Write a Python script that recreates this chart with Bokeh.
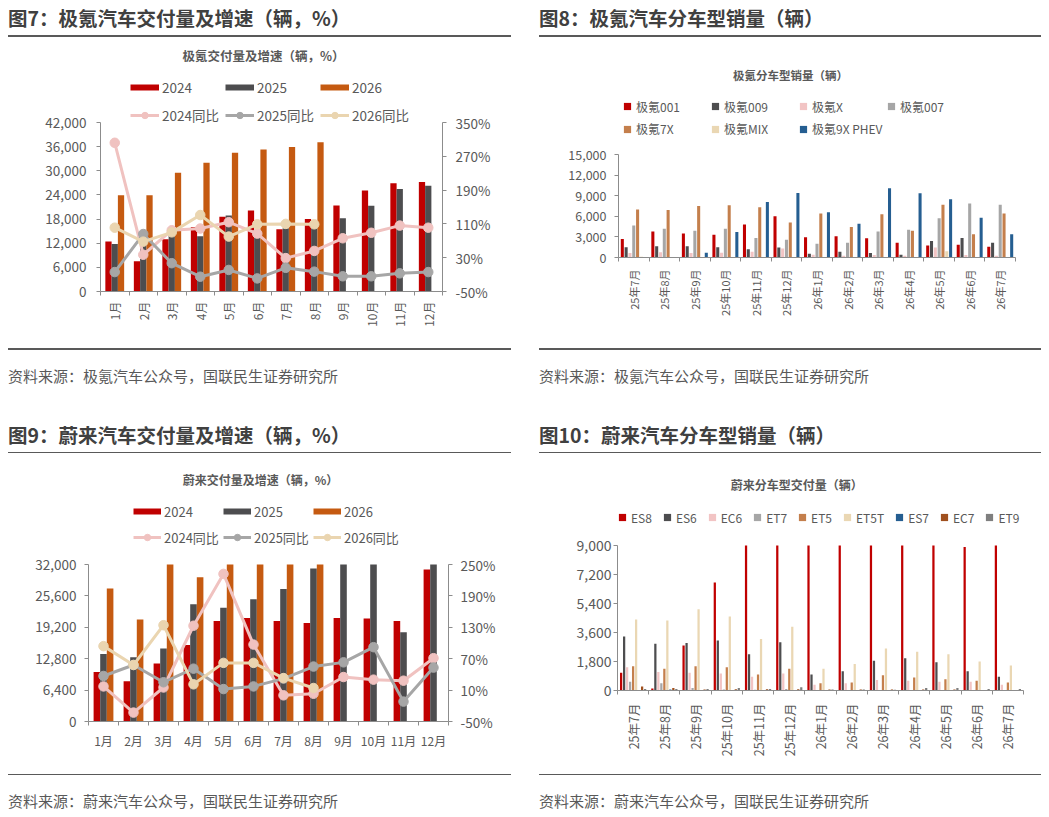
import math
from bokeh.plotting import figure
from bokeh.models import (Range1d, LinearAxis, FixedTicker, NumeralTickFormatter,
                          PrintfTickFormatter, Legend, LegendItem, Label, Div, Spacer)
from bokeh.layouts import column, row
from bokeh.embed import file_html
from bokeh.resources import INLINE

# ---------------- data ----------------
months = ["1月", "2月", "3月", "4月", "5月", "6月", "7月", "8月", "9月", "10月", "11月", "12月"]

# 极氪 deliveries (辆)
zk_2024 = [12400, 7500, 13000, 16000, 18600, 20100, 15500, 18000, 21400, 25100, 26900, 27200]
zk_2025 = [11800, 13900, 14400, 13750, 18900, 15000, 15700, 16300, 18200, 21300, 25500, 26300]
zk_2026 = [23900, 23900, 29500, 32000, 34500, 35300, 35900, 37100]
# 极氪 YoY (%)
zk_yoy_2024 = [302, 37, 95, 99, 114, 87, 29, 46, 76, 89, 106, 101]
zk_yoy_2025 = [-4, 86, 17, -15, 1, -19, 6, -3, -14, -14, -7, -4]
zk_yoy_2026 = [101, 68, 90, 131, 80, 109, 110, 109]

# 蔚来 deliveries (辆)
nio_2024 = [10100, 8200, 11800, 15600, 20500, 21100, 20500, 20100, 21100, 21000, 20500, 31000]
nio_2025 = [13750, 13100, 14900, 23900, 23200, 24900, 27000, 31200, 34400, 40300, 18200, 47400]
nio_2026 = [27100, 20800, 34700, 29400, 37600, 40300, 35900, 35700]
# 蔚来 YoY (%)
nio_yoy_2024 = [17, -33, 15, 133, 232, 97, 0, 3, 35, 30, 28, 71]
nio_yoy_2025 = [37, 58, 25, 51, 12, 17, 32, 55, 63, 92, -12, 53]
nio_yoy_2026 = [94, 58, 134, 21, 62, 62, 33, 14]

# model months
model_months = ["25年7月", "25年8月", "25年9月", "25年10月", "25年11月", "25年12月",
                "26年1月", "26年2月", "26年3月", "26年4月", "26年5月", "26年6月", "26年7月"]

# 极氪 by model
zk_names = ["极氪001", "极氪009", "极氪X", "极氪007", "极氪7X", "极氪MIX", "极氪9X PHEV"]
zk_001 = [2700, 3800, 3500, 3300, 4800, 6000, 2950, 3100, 2800, 2150, 1750, 1850, 1550]
zk_009 = [1500, 1650, 1650, 1500, 1200, 1450, 550, 850, 650, 400, 2400, 2850, 2150]
zk_x = [650, 750, 650, 700, 850, 1300, 400, 250, 350, 250, 1450, 350, 250]
zk_007 = [4650, 4200, 3900, 4200, 2850, 2600, 2000, 2150, 3800, 4050, 5700, 7850, 7700]
zk_7x = [7000, 6900, 7500, 7600, 7300, 5100, 6400, 4450, 6300, 3900, 7700, 3400, 6400]
zk_mix = [100, 0, 0, 0, 0, 0, 0, 0, 0, 0, 900, 0, 0]
zk_9x = [0, 0, 700, 3700, 8100, 9400, 6600, 4900, 10100, 9350, 8500, 5800, 3400]

# 蔚来 by model
nio_names = ["ES8", "ES6", "EC6", "ET7", "ET5", "ET5T", "ES7", "EC7", "ET9"]
nio_es8 = [1100, 120, 2800, 6700, 11000, 11500, 11000, 10500, 11000, 10800, 10500, 8900, 10800]
nio_es6 = [3350, 2900, 2950, 3100, 2250, 3000, 1000, 1200, 1850, 2000, 1750, 1200, 850]
nio_ec6 = [1450, 1150, 1100, 1050, 850, 1050, 350, 450, 650, 600, 550, 550, 350]
nio_et7 = [550, 450, 150, 60, 50, 100, 0, 0, 0, 0, 0, 0, 0]
nio_et5 = [1500, 1350, 1500, 1450, 1000, 1350, 450, 500, 950, 800, 700, 600, 500]
nio_et5t = [4400, 4350, 5050, 4600, 3200, 3950, 1350, 1650, 2600, 2400, 2250, 1800, 1550]
nio_es7 = [0, 60, 0, 0, 0, 0, 0, 0, 0, 0, 0, 0, 0]
nio_ec7 = [250, 150, 60, 80, 70, 70, 60, 60, 60, 60, 60, 0, 0]
nio_et9 = [100, 100, 100, 150, 100, 200, 60, 60, 50, 150, 150, 100, 100]

# ---------------- style ----------------
FONT = "Noto Sans CJK SC"
TXT = "#595959"
AXC = "#8C8C8C"
C24, C25, C26 = "#C00000", "#4D4D4F", "#C55A11"
L24, L25, L26 = "#F0C2C0", "#A6A6A6", "#EAD5B0"
ZK_COLORS = ["#C00000", "#4D4D4F", "#F2C4C4", "#A6A6A6", "#C47F4C", "#EAD7B3", "#255E91"]
NIO_COLORS = ["#C00000", "#4D4D4F", "#F2C4C4", "#A6A6A6", "#C47F4C", "#EAD7B3", "#255E91",
              "#A0501E", "#7F7F7F"]


def base_fig(w, h, borders, xr, ymin, ymax):
    """The frame reaches the top of the figure so that titles/legends are drawn inside it;
    the value axis itself only covers the lower part (its bounds)."""
    bl, br, bt, bb = borders
    frame_h = h - bb
    axis_h = h - bb - bt
    yend = ymin + (ymax - ymin) * frame_h / axis_h
    p = figure(width=w, height=h, x_range=Range1d(*xr), y_range=Range1d(ymin, yend),
               x_axis_type=None, y_axis_type=None, output_backend="svg",
               toolbar_location=None, min_border_left=bl, min_border_right=br,
               min_border_top=0, min_border_bottom=bb)
    p.frame_align = False
    p.outline_line_color = None
    p.background_fill_color = "white"
    p.border_fill_color = "white"
    # range used only by legend swatch renderers (kept outside the visible frame)
    p.extra_y_ranges = {"swatch": Range1d(-3 * ymax, -2 * ymax)}
    return p, frame_h / axis_h


def style_axis(ax, fs):
    ax.axis_line_color = AXC
    ax.major_tick_line_color = AXC
    ax.minor_tick_line_color = AXC
    ax.major_label_text_color = TXT
    ax.major_label_text_font = FONT
    ax.major_label_text_font_size = fs


def y_axis(p, ticks, fmt, side, fs, standoff, range_name="default"):
    ax = LinearAxis(y_range_name=range_name, bounds=(ticks[0], ticks[-1]),
                    ticker=FixedTicker(ticks=ticks, minor_ticks=[]), formatter=fmt)
    style_axis(ax, fs)
    ax.major_tick_out = 4
    ax.major_tick_in = 0
    ax.minor_tick_out = 0
    ax.minor_tick_in = 0
    ax.major_label_standoff = standoff
    p.add_layout(ax, side)


def x_axis(p, labels, fs, orient, standoff):
    n = len(labels)
    ax = LinearAxis(ticker=FixedTicker(ticks=list(range(1, n + 1)),
                                       minor_ticks=[k + 0.5 for k in range(n + 1)]))
    style_axis(ax, fs)
    ax.major_label_overrides = {k + 1: lab for k, lab in enumerate(labels)}
    ax.major_tick_out = 0
    ax.major_tick_in = 0
    ax.minor_tick_out = 4
    ax.minor_tick_in = 0
    ax.major_label_standoff = standoff
    if orient is not None:
        ax.major_label_orientation = orient
    p.add_layout(ax, "below")


def legend(p, items, loc, gw, gh, standoff, lw, spacing, fs):
    lg = Legend(items=items, location=loc, orientation="horizontal",
                glyph_width=gw, glyph_height=gh, label_height=gh, label_width=lw,
                label_standoff=standoff, spacing=spacing, padding=0, margin=0,
                border_line_color=None, background_fill_alpha=0,
                label_text_font=FONT, label_text_font_size=fs, label_text_color=TXT)
    p.add_layout(lg, "center")


def title_label(p, text, x, y, fs):
    p.add_layout(Label(x=x, y=y, x_units="screen", y_units="screen", text=text,
                       text_align="center", text_baseline="middle", text_font=FONT,
                       text_font_size=fs, text_font_style="bold", text_color=TXT))


def combo_chart(w, h, borders, ymax, yticks, prange, pticks, bars, yoys, title, tpos, tfs,
                legA, legB, leg_cfg, yfs, ystand, pstand, xfs, xorient, xstand):
    p, k = base_fig(w, h, borders, (0.5, 12.5), 0, ymax)
    pmin, pmax = prange
    p.extra_y_ranges["pct"] = Range1d(pmin, pmin + (pmax - pmin) * k)
    y_axis(p, yticks, NumeralTickFormatter(format="0,0"), "left", yfs, ystand)
    y_axis(p, pticks, PrintfTickFormatter(format="%d%%"), "right", yfs, pstand, "pct")
    x_axis(p, months, xfs, xorient, xstand)
    bw = 0.22
    bar_items = []
    for j, (vals, col, name) in enumerate(zip(bars, (C24, C25, C26), ("2024", "2025", "2026"))):
        off = (j - 1) * bw
        xs = [i + 1 + off for i in range(len(vals))]
        tops = [min(v, ymax) for v in vals]          # the value axis ends at ymax
        p.vbar(x=xs, top=tops, width=bw, fill_color=col, line_color=None)
        sw = p.line(xs, vals, line_color=col, line_width=6, y_range_name="swatch")
        bar_items.append(LegendItem(label=name, renderers=[sw]))
    line_items = []
    for vals, col, name in zip(yoys, (L24, L25, L26), ("2024同比", "2025同比", "2026同比")):
        xs = [i + 1 for i in range(len(vals))]
        rl = p.line(xs, vals, line_color=col, line_width=3, y_range_name="pct")
        rs = p.scatter(xs, vals, size=9.5, fill_color=col, line_color=col, y_range_name="pct")
        line_items.append(LegendItem(label=name, renderers=[rl, rs]))
    gw, st, lw, sp, fs = leg_cfg
    legend(p, bar_items, legA, gw, 16, st, lw, sp, fs)
    legend(p, line_items, legB, gw, 16, st, lw, sp, fs)
    title_label(p, title, tpos[0], tpos[1], tfs)
    return p


def model_chart(w, h, borders, ymax, yticks, series, colors, names, bw, pitch, title, tpos, tfs,
                rows, leg_cfg, yfs, ystand, xfs, xstand):
    n = len(model_months)
    p, _ = base_fig(w, h, borders, (0.5, n + 0.5), 0, ymax)
    y_axis(p, yticks, NumeralTickFormatter(format="0,0"), "left", yfs, ystand)
    x_axis(p, model_months, xfs, math.pi / 2, xstand)
    k = len(series)
    items = []
    for j, (vals, col, name) in enumerate(zip(series, colors, names)):
        off = (j - (k - 1) / 2) * pitch
        xs = [i + 1 + off for i in range(n)]
        tops = [min(v, ymax) for v in vals]          # the value axis ends at ymax
        p.vbar(x=xs, top=tops, width=bw, fill_color=col, line_color=None)
        sw = p.scatter(xs, vals, marker="square", size=7, fill_color=col, line_color=None,
                       y_range_name="swatch")
        items.append(LegendItem(label=name, renderers=[sw]))
    gw, st, lw, sp, fs = leg_cfg
    start = 0
    for count, loc in rows:
        legend(p, items[start:start + count], loc, gw, gw, st, lw, sp, fs)
        start += count
    title_label(p, title, tpos[0], tpos[1], tfs)
    return p


# ---------------- text blocks ----------------
def header(text, w, pad, content_h, border):
    html = ('<div style="box-sizing:content-box;margin:0;padding:%dpx 0 0 0;height:%dpx;'
            'line-height:19px;border-bottom:%dpx solid #595959;font-family:\'%s\';'
            'font-size:19.5px;font-weight:bold;color:#404040;white-space:nowrap;width:%dpx;">%s</div>'
            % (pad, content_h, border, FONT, w, text))
    return Div(text=html, width=w, height=pad + content_h + border, margin=0)


def footer(text, w, gap, border, pad, lh, total):
    html = ('<div style="box-sizing:content-box;margin:0;padding:0;height:%dpx;"></div>'
            '<div style="box-sizing:content-box;margin:0;padding:%dpx 0 0 0;'
            'border-top:%dpx solid #595959;line-height:%dpx;height:%dpx;font-family:\'%s\';'
            'font-size:15px;color:#595959;white-space:nowrap;width:%dpx;">%s</div>'
            % (gap, pad, border, lh, lh, FONT, w, text))
    return Div(text=html, width=w, height=total, margin=0)


WL, WR = 503, 502

fig7 = combo_chart(WL, 307, (92, 69, 85, 53), 42000, list(range(0, 42001, 6000)),
                   (-50, 350), [-50, 30, 110, 190, 270, 350],
                   (zk_2024, zk_2025, zk_2026), (zk_yoy_2024, zk_yoy_2025, zk_yoy_2026),
                   "极氪交付量及增速（辆，%）", (163, 235.6), "12.5px",
                   (30, 193.6), (30, 166), (29, 3, 57, 6, "13.5px"),
                   "13.5px", 10, 9, "12px", math.pi / 2, 6)

fig9 = combo_chart(WL, 318, (80, 63, 111, 50), 32000, list(range(0, 32001, 6400)),
                   (-50, 250), [-50, 10, 70, 130, 190, 250],
                   (nio_2024, nio_2025, nio_2026), (nio_yoy_2024, nio_yoy_2025, nio_yoy_2026),
                   "蔚来交付量及增速（辆，%）", (172, 241.7), "12px",
                   (45, 200.4), (45, 174.4), (28, 3, 56, 3, "13px"),
                   "13.5px", 8, 8, "12px", None, 6)

fig8 = model_chart(WR, 307, (79, 26, 117, 87), 15000, list(range(0, 15001, 3000)),
                   (zk_001, zk_009, zk_x, zk_007, zk_7x, zk_mix, zk_9x), ZK_COLORS, zk_names,
                   0.1, 0.125, "极氪分车型销量（辆）", (172, 182.7), "11.5px",
                   [(4, (0, 142)), (3, (0, 119.4))], (18, 0, 60, 10, "12px"),
                   "12.5px", 8, "11px", 8)

fig10 = model_chart(WR, 318, (78, 18, 92, 81), 9000, list(range(0, 9001, 1800)),
                    (nio_es8, nio_es6, nio_ec6, nio_et7, nio_et5, nio_et5t, nio_es7, nio_ec7, nio_et9),
                    NIO_COLORS, nio_names, 0.072, 0.096, "蔚来分车型交付量（辆）", (179.3, 206),
                    "12px", [(9, (-4, 164))], (18, 0, 0, 6, "12px"),
                    "14px", 2, "12.5px", 9)

left = column(
    header("图7：极氪汽车交付量及增速（辆，%）", WL, 0, 27, 2),
    fig7,
    footer("资料来源：极氪汽车公众号，国联民生证券研究所", WL, 4, 2, 16, 20, 50),
    header("图9：蔚来汽车交付量及增速（辆，%）", WL, 31, 27, 1),
    fig9,
    footer("资料来源：蔚来汽车公众号，国联民生证券研究所", WL, 3, 1, 19, 14, 37),
    spacing=0,
)
right = column(
    header("图8：极氪汽车分车型销量（辆）", WR, 0, 27, 2),
    fig8,
    footer("资料来源：极氪汽车公众号，国联民生证券研究所", WR, 4, 2, 16, 20, 50),
    header("图10：蔚来汽车分车型销量（辆）", WR, 31, 27, 1),
    fig10,
    footer("资料来源：蔚来汽车公众号，国联民生证券研究所", WR, 3, 1, 19, 14, 37),
    spacing=0,
)
page = column(
    Spacer(width=1041, height=8),
    row(Spacer(width=8, height=801), left, Spacer(width=28, height=801), right, spacing=0),
    spacing=0,
)

open("out.html", "w").write(file_html(page, INLINE))
